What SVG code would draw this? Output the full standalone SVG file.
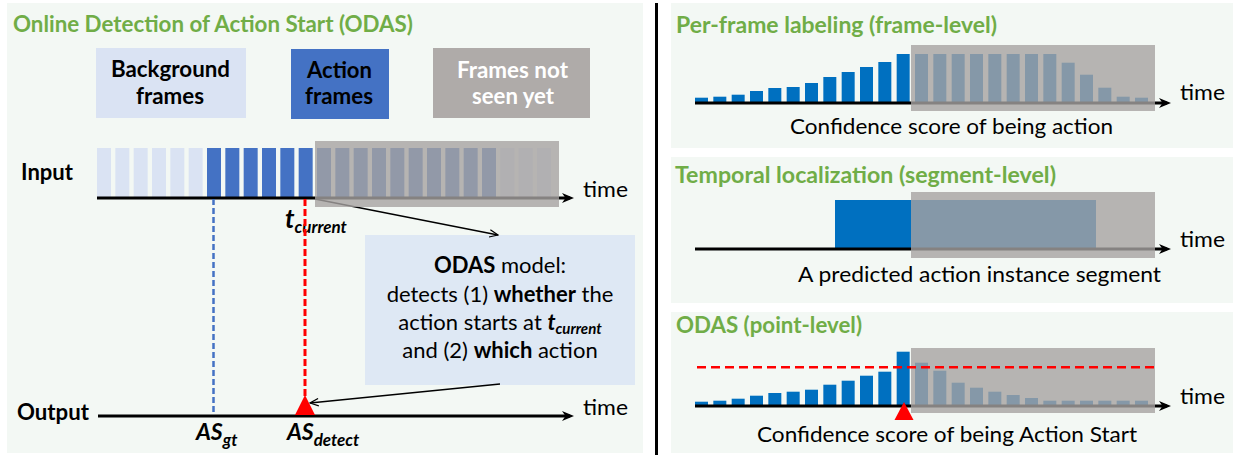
<svg xmlns="http://www.w3.org/2000/svg" width="1235" height="456" viewBox="0 0 1235 456">
  <defs>
    <style>
      .panel { fill: #f3f8f4; }
      .ttl { font-family: Lato, "Liberation Sans", sans-serif; font-weight: 700; font-size: 22px; fill: #70ad47; }
      .lbl { font-family: Lato, "Liberation Sans", sans-serif; font-weight: 700; font-size: 22px; fill: #000; }
      .txt { font-family: Lato, "Liberation Sans", sans-serif; font-weight: 400; font-size: 21px; fill: #000; }
      .box { font-family: Lato, "Liberation Sans", sans-serif; font-weight: 400; font-size: 22px; fill: #000; }
      .tm { font-family: Lato, "Liberation Sans", sans-serif; font-weight: 400; font-size: 22px; fill: #000; }
      .bi { font-family: Lato, "Liberation Sans", sans-serif; font-weight: 700; font-style: italic; fill: #000; }
      .bg-frame { fill: #dae3f3; }
      .act-frame { fill: #4472c4; }
      .bar { fill: #0070c0; }
      .unseen { fill: #a6a3a1; opacity: 0.8; }
      .axis { stroke: #000; stroke-width: 3; fill: none; }
      .thin { stroke: #000; stroke-width: 1.3; fill: none; }
    </style>
    <marker id="axis-head" markerUnits="userSpaceOnUse" markerWidth="12" markerHeight="10" refX="8" refY="5" orient="auto">
      <path d="M0,0 L12,5 L0,10 L3.5,5 Z" fill="#000"/>
    </marker>
    <marker id="thin-head" markerUnits="userSpaceOnUse" markerWidth="10" markerHeight="9" refX="9" refY="4.5" orient="auto">
      <path d="M0.5,0.8 L9,4.5 L0.5,8.2" fill="none" stroke="#000" stroke-width="1.2"/>
    </marker>
  </defs>

  <rect width="1235" height="456" fill="#fff"/>

  <!-- panel backgrounds -->
  <rect class="panel" x="7" y="3" width="636" height="450"/>
  <rect class="panel" x="671" y="3" width="562" height="145"/>
  <rect class="panel" x="671" y="157" width="562" height="146"/>
  <rect class="panel" x="671" y="312" width="562" height="141"/>
  <line x1="656.5" y1="3" x2="656.5" y2="455" stroke="#000" stroke-width="3"/>

  <!-- ===== left: ODAS overview ===== -->
  <text class="ttl" x="13" y="32" textLength="400" lengthAdjust="spacingAndGlyphs">Online Detection of Action Start (ODAS)</text>

  <g id="legend-background">
    <rect x="96" y="48" width="150" height="70" fill="#dae3f3"/>
    <text class="lbl" x="111" y="77" textLength="119" lengthAdjust="spacingAndGlyphs">Background</text>
    <text class="lbl" x="136" y="104" textLength="68" lengthAdjust="spacingAndGlyphs">frames</text>
  </g>
  <g id="legend-action">
    <rect x="291" y="49" width="98" height="70" fill="#4472c4"/>
    <text class="lbl" x="307" y="78" textLength="65" lengthAdjust="spacingAndGlyphs">Action</text>
    <text class="lbl" x="305" y="104" textLength="68" lengthAdjust="spacingAndGlyphs">frames</text>
  </g>
  <g id="legend-unseen">
    <rect x="433" y="48" width="157" height="70" fill="#afaba9"/>
    <text class="lbl" x="457" y="78" textLength="111" lengthAdjust="spacingAndGlyphs" style="fill:#fff">Frames not</text>
    <text class="lbl" x="472" y="104" textLength="82" lengthAdjust="spacingAndGlyphs" style="fill:#fff">seen yet</text>
  </g>

  <g id="input-row">
    <text class="lbl" x="21" y="180" textLength="52" lengthAdjust="spacingAndGlyphs">Input</text>
    <rect class="bg-frame" x="97" y="148" width="14" height="49"/>
    <rect class="bg-frame" x="115.33" y="148" width="14" height="49"/>
    <rect class="bg-frame" x="133.67" y="148" width="14" height="49"/>
    <rect class="bg-frame" x="152" y="148" width="14" height="49"/>
    <rect class="bg-frame" x="170.33" y="148" width="14" height="49"/>
    <rect class="bg-frame" x="188.67" y="148" width="14" height="49"/>
    <rect class="act-frame" x="207" y="148" width="14" height="49"/>
    <rect class="act-frame" x="225.33" y="148" width="14" height="49"/>
    <rect class="act-frame" x="243.67" y="148" width="14" height="49"/>
    <rect class="act-frame" x="262" y="148" width="14" height="49"/>
    <rect class="act-frame" x="280.33" y="148" width="14" height="49"/>
    <rect class="act-frame" x="298.67" y="148" width="14" height="49"/>
    <rect class="act-frame" x="317" y="148" width="14" height="49"/>
    <rect class="act-frame" x="335.33" y="148" width="14" height="49"/>
    <rect class="act-frame" x="353.67" y="148" width="14" height="49"/>
    <rect class="act-frame" x="372" y="148" width="14" height="49"/>
    <rect class="act-frame" x="390.33" y="148" width="14" height="49"/>
    <rect class="act-frame" x="408.67" y="148" width="14" height="49"/>
    <rect class="act-frame" x="427" y="148" width="14" height="49"/>
    <rect class="act-frame" x="445.33" y="148" width="14" height="49"/>
    <rect class="act-frame" x="463.67" y="148" width="14" height="49"/>
    <rect class="act-frame" x="482" y="148" width="14" height="49"/>
    <rect class="bg-frame" x="500.33" y="148" width="14" height="49"/>
    <rect class="bg-frame" x="518.67" y="148" width="14" height="49"/>
    <rect class="bg-frame" x="537" y="148" width="14" height="49"/>
    <text class="tm" x="583" y="197" textLength="45" lengthAdjust="spacingAndGlyphs">time</text>
    <text class="bi" x="285" y="228" font-size="26">t<tspan font-size="17" dy="5">current</tspan></text>
  </g>

  <g id="output-row">
    <text class="lbl" x="17" y="420" textLength="72" lengthAdjust="spacingAndGlyphs">Output</text>
    <text class="tm" x="583" y="415" textLength="45" lengthAdjust="spacingAndGlyphs">time</text>
    <text class="bi" x="196" y="440" font-size="23">AS<tspan font-size="17" dy="6">gt</tspan></text>
    <text class="bi" x="287" y="440" font-size="23">AS<tspan font-size="17" dy="6">detect</tspan></text>
  </g>

  <g id="odas-model">
    <rect x="365" y="235" width="270" height="150" fill="#dee8f4"/>
    <text class="box" x="500" y="273" text-anchor="middle"><tspan font-weight="700">ODAS</tspan> model:</text>
    <text class="box" x="500" y="302" text-anchor="middle">detects (1) <tspan font-weight="700">whether</tspan> the</text>
    <text class="box" x="500" y="330" text-anchor="middle">action starts at <tspan font-weight="700" font-style="italic">t<tspan font-size="15" dy="4">current</tspan></tspan></text>
    <text class="box" x="500" y="358" text-anchor="middle">and (2) <tspan font-weight="700">which</tspan> action</text>
  </g>

  <g id="connectors">
    <line class="axis" x1="97" y1="198" x2="570" y2="198" marker-end="url(#axis-head)"/>
    <line class="axis" x1="98" y1="416" x2="570" y2="416" marker-end="url(#axis-head)"/>
    <line x1="213.5" y1="199" x2="213.5" y2="414" stroke="#4472c4" stroke-width="2.5" stroke-dasharray="6 3"/>
    <line x1="305" y1="199" x2="305" y2="397" stroke="#ff0000" stroke-width="3" stroke-dasharray="7 3"/>
    <line class="thin" x1="315" y1="199" x2="498" y2="235" marker-end="url(#thin-head)"/>
    <line class="thin" x1="500" y1="384" x2="310" y2="403" marker-end="url(#thin-head)"/>
  </g>

  <rect id="input-unseen" class="unseen" x="315" y="141" width="244" height="66"/>
  <polygon id="as-detect-mark" points="305,395 315,415 295,415" fill="#ff0000"/>

  <!-- ===== right: three output granularities ===== -->
  <g id="frame-level">
    <text class="ttl" x="676" y="33" textLength="321" lengthAdjust="spacingAndGlyphs">Per-frame labeling (frame-level)</text>
    <rect class="bar" x="695" y="97.7" width="13" height="5.3"/>
    <rect class="bar" x="713.33" y="96.7" width="13" height="6.3"/>
    <rect class="bar" x="731.67" y="94.7" width="13" height="8.3"/>
    <rect class="bar" x="750" y="91" width="13" height="12"/>
    <rect class="bar" x="768.33" y="88" width="13" height="15"/>
    <rect class="bar" x="786.67" y="87" width="13" height="16"/>
    <rect class="bar" x="805" y="83" width="13" height="20"/>
    <rect class="bar" x="823.33" y="77" width="13" height="26"/>
    <rect class="bar" x="841.67" y="72" width="13" height="31"/>
    <rect class="bar" x="860" y="67" width="13" height="36"/>
    <rect class="bar" x="878.33" y="62" width="13" height="41"/>
    <rect class="bar" x="896.67" y="54" width="13" height="49"/>
    <rect class="bar" x="915" y="54" width="13" height="49"/>
    <rect class="bar" x="933.33" y="54" width="13" height="49"/>
    <rect class="bar" x="951.67" y="54" width="13" height="49"/>
    <rect class="bar" x="970" y="54" width="13" height="49"/>
    <rect class="bar" x="988.33" y="54" width="13" height="49"/>
    <rect class="bar" x="1006.67" y="54" width="13" height="49"/>
    <rect class="bar" x="1025" y="54" width="13" height="49"/>
    <rect class="bar" x="1043.33" y="54" width="13" height="49"/>
    <rect class="bar" x="1061.67" y="62.7" width="13" height="40.3"/>
    <rect class="bar" x="1080" y="74.7" width="13" height="28.3"/>
    <rect class="bar" x="1098.33" y="87.7" width="13" height="15.3"/>
    <rect class="bar" x="1116.67" y="96.7" width="13" height="6.3"/>
    <rect class="bar" x="1135" y="97.7" width="13" height="5.3"/>
    <line class="axis" x1="695" y1="103" x2="1167" y2="103" marker-end="url(#axis-head)"/>
    <rect class="unseen" x="911" y="45" width="244" height="66"/>
    <text class="tm" x="1180" y="100" textLength="45" lengthAdjust="spacingAndGlyphs">time</text>
    <text class="txt" x="790" y="134" textLength="323" lengthAdjust="spacingAndGlyphs">Confidence score of being action</text>
  </g>

  <g id="segment-level">
    <text class="ttl" x="675" y="183" textLength="381" lengthAdjust="spacingAndGlyphs">Temporal localization (segment-level)</text>
    <rect class="bar" x="835" y="200" width="261" height="49"/>
    <line class="axis" x1="695" y1="249" x2="1167" y2="249" marker-end="url(#axis-head)"/>
    <rect class="unseen" x="911" y="192" width="244" height="66"/>
    <text class="tm" x="1180" y="247" textLength="45" lengthAdjust="spacingAndGlyphs">time</text>
    <text class="txt" x="798" y="282" textLength="363" lengthAdjust="spacingAndGlyphs">A predicted action instance segment</text>
  </g>

  <g id="point-level">
    <text class="ttl" x="676" y="333" textLength="186" lengthAdjust="spacingAndGlyphs">ODAS (point-level)</text>
    <rect class="bar" x="695" y="401.7" width="13" height="4.3"/>
    <rect class="bar" x="713.33" y="400.7" width="13" height="5.3"/>
    <rect class="bar" x="731.67" y="398.7" width="13" height="7.3"/>
    <rect class="bar" x="750" y="395.7" width="13" height="10.3"/>
    <rect class="bar" x="768.33" y="393" width="13" height="13"/>
    <rect class="bar" x="786.67" y="391.7" width="13" height="14.3"/>
    <rect class="bar" x="805" y="389.7" width="13" height="16.3"/>
    <rect class="bar" x="823.33" y="384.7" width="13" height="21.3"/>
    <rect class="bar" x="841.67" y="380.7" width="13" height="25.3"/>
    <rect class="bar" x="860" y="375.7" width="13" height="30.3"/>
    <rect class="bar" x="878.33" y="371.7" width="13" height="34.3"/>
    <rect class="bar" x="896.67" y="351.7" width="13" height="54.3"/>
    <rect class="bar" x="915" y="362.7" width="13" height="43.3"/>
    <rect class="bar" x="933.33" y="370.7" width="13" height="35.3"/>
    <rect class="bar" x="951.67" y="382.7" width="13" height="23.3"/>
    <rect class="bar" x="970" y="387.7" width="13" height="18.3"/>
    <rect class="bar" x="988.33" y="391.7" width="13" height="14.3"/>
    <rect class="bar" x="1006.67" y="395" width="13" height="11"/>
    <rect class="bar" x="1025" y="398" width="13" height="8"/>
    <rect class="bar" x="1043.33" y="400.7" width="13" height="5.3"/>
    <rect class="bar" x="1061.67" y="400.7" width="13" height="5.3"/>
    <rect class="bar" x="1080" y="400.7" width="13" height="5.3"/>
    <rect class="bar" x="1098.33" y="400.7" width="13" height="5.3"/>
    <rect class="bar" x="1116.67" y="400.7" width="13" height="5.3"/>
    <rect class="bar" x="1135" y="400.7" width="13" height="5.3"/>
    <line class="axis" x1="695" y1="406" x2="1167" y2="406" marker-end="url(#axis-head)"/>
    <rect class="unseen" x="911" y="348" width="244" height="65"/>
    <line x1="697" y1="367.3" x2="1155" y2="367.3" stroke="#ff0000" stroke-width="2.5" stroke-dasharray="9 5"/>
    <polygon points="904,402 913.5,420 894.5,420" fill="#ff0000"/>
    <text class="tm" x="1180" y="404" textLength="45" lengthAdjust="spacingAndGlyphs">time</text>
    <text class="txt" x="757" y="442" textLength="380" lengthAdjust="spacingAndGlyphs">Confidence score of being Action Start</text>
  </g>
</svg>
